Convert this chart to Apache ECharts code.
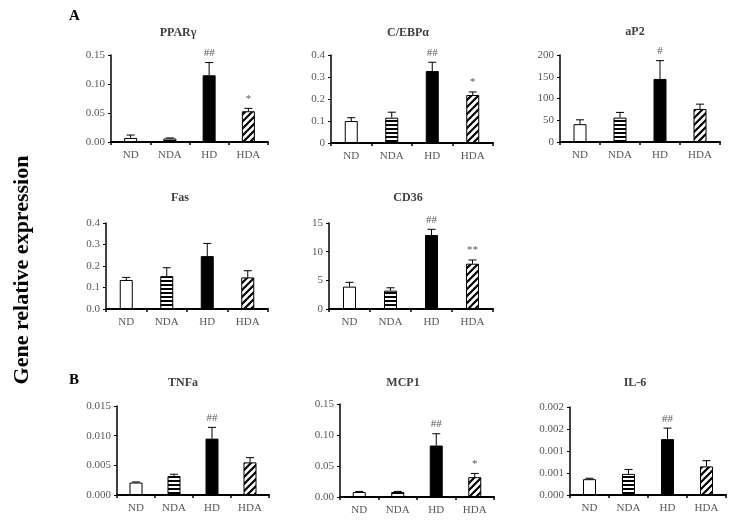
<!DOCTYPE html>
<html>
<head>
<meta charset="utf-8">
<script src="https://cdn.jsdelivr.net/npm/echarts@6/dist/echarts.min.js"></script>
<style>
html,body{margin:0;padding:0;background:#fff;}
#chart{width:729px;height:524px;}
</style>
</head>
<body>
<div id="chart"></div>
<script>
// ---- Data ----
const categories = ['ND', 'NDA', 'HD', 'HDA'];
const panelNames = ['PPARγ', 'C/EBPα', 'aP2', 'Fas', 'CD36', 'TNFa', 'MCP1', 'IL-6'];

const ppargMean = [0.007, 0.006, 0.115, 0.053];
const ppargSE   = [0.005, 0.001, 0.022, 0.005];
const ppargSig  = ['', '', '##', '*'];
const ppargTicks = ['0.00', '0.05', '0.10', '0.15'];

const cebpaMean = [0.100, 0.115, 0.327, 0.218];
const cebpaSE   = [0.015, 0.025, 0.040, 0.014];
const cebpaSig  = ['', '', '##', '*'];
const cebpaTicks = ['0', '0.1', '0.2', '0.3', '0.4'];

const ap2Mean = [41, 56, 145, 76];
const ap2SE   = [10, 12, 42, 11];
const ap2Sig  = ['', '', '#', ''];
const ap2Ticks = ['0', '50', '100', '150', '200'];

const fasMean = [0.135, 0.153, 0.246, 0.147];
const fasSE   = [0.012, 0.039, 0.059, 0.031];
const fasSig  = ['', '', '', ''];
const fasTicks = ['0.0', '0.1', '0.2', '0.3', '0.4'];

const cd36Mean = [3.9, 3.2, 12.9, 7.9];
const cd36SE   = [0.75, 0.5, 1.0, 0.65];
const cd36Sig  = ['', '', '##', '**'];
const cd36Ticks = ['0', '5', '10', '15'];

const tnfaMean = [0.0021, 0.0032, 0.0095, 0.0055];
const tnfaSE   = [0.0001, 0.0003, 0.0019, 0.0008];
const tnfaSig  = ['', '', '##', ''];
const tnfaTicks = ['0.000', '0.005', '0.010', '0.015'];

const mcp1Mean = [0.008, 0.008, 0.083, 0.032];
const mcp1SE   = [0.001, 0.001, 0.019, 0.006];
const mcp1Sig  = ['', '', '##', '*'];
const mcp1Ticks = ['0.00', '0.05', '0.10', '0.15'];

const il6Mean = [0.00036, 0.00048, 0.00127, 0.00065];
const il6SE   = [0.00002, 0.0001, 0.00025, 0.00013];
const il6Sig  = ['', '', '##', ''];
const il6Ticks = ['0.000', '0.001', '0.001', '0.002', '0.002'];

const axisMax = [0.15, 0.4, 200, 0.4, 15, 0.015, 0.15, 0.002];
const axisInterval = [0.05, 0.1, 50, 0.1, 5, 0.005, 0.05, 0.0005];

const yTitle = 'Gene relative expression';

// ---- Layout / style ----
const panels = [
  {mean: ppargMean, se: ppargSE, sig: ppargSig, ticks: ppargTicks},
  {mean: cebpaMean, se: cebpaSE, sig: cebpaSig, ticks: cebpaTicks},
  {mean: ap2Mean, se: ap2SE, sig: ap2Sig, ticks: ap2Ticks},
  {mean: fasMean, se: fasSE, sig: fasSig, ticks: fasTicks},
  {mean: cd36Mean, se: cd36SE, sig: cd36Sig, ticks: cd36Ticks},
  {mean: tnfaMean, se: tnfaSE, sig: tnfaSig, ticks: tnfaTicks},
  {mean: mcp1Mean, se: mcp1SE, sig: mcp1Sig, ticks: mcp1Ticks},
  {mean: il6Mean, se: il6SE, sig: il6Sig, ticks: il6Ticks}
];
const grids = [
  {left: 111, top: 55, width: 157, height: 87},
  {left: 331, top: 55, width: 162, height: 88},
  {left: 560, top: 55, width: 160, height: 87},
  {left: 106, top: 223, width: 162, height: 86},
  {left: 329, top: 223, width: 164, height: 86},
  {left: 117, top: 406, width: 152, height: 89},
  {left: 340, top: 404, width: 154, height: 93},
  {left: 570, top: 407, width: 156, height: 88}
];
const titlePos = [
  [173, 22], [403, 22], [630, 21],
  [175, 187], [403, 187],
  [178, 372], [398, 372], [630, 372]
];

const FONT = '"Liberation Serif", "Times New Roman", serif';
const GRAY = '#595959';

function makeHStripes() {
  const c = document.createElement('canvas');
  c.width = 8; c.height = 4;
  const g = c.getContext('2d');
  g.fillStyle = '#fff'; g.fillRect(0, 0, 8, 4);
  g.fillStyle = '#000'; g.fillRect(0, 0, 8, 2);
  return c;
}
function makeDiag() {
  const s = 7;
  const c = document.createElement('canvas');
  c.width = s; c.height = s;
  const g = c.getContext('2d');
  g.fillStyle = '#fff'; g.fillRect(0, 0, s, s);
  g.strokeStyle = '#000'; g.lineWidth = 2.2;
  g.beginPath();
  g.moveTo(-1, s + 1); g.lineTo(s + 1, -1);
  g.moveTo(-1, 1); g.lineTo(1, -1);
  g.moveTo(s - 1, s + 1); g.lineTo(s + 1, s - 1);
  g.stroke();
  return c;
}
const barFills = [
  '#ffffff',
  {image: makeHStripes(), repeat: 'repeat'},
  '#000000',
  {image: makeDiag(), repeat: 'repeat'}
];

const option = {
  animation: false,
  backgroundColor: '#fff',
  title: panelNames.map((n, i) => ({
    text: n,
    left: titlePos[i][0],
    top: titlePos[i][1],
    textAlign: 'center',
    textStyle: {fontFamily: FONT, fontSize: 12, fontWeight: 'bold', color: '#404040'}
  })),
  grid: grids.map(g => Object.assign({containLabel: false}, g)),
  xAxis: panels.map((p, i) => ({
    type: 'category',
    gridIndex: i,
    data: categories,
    axisLine: {lineStyle: {color: '#000', width: 2}},
    axisTick: {show: true, length: 3, lineStyle: {color: '#000', width: 1.5}},
    axisLabel: {fontFamily: FONT, fontSize: 11, color: GRAY, margin: 8}
  })),
  yAxis: panels.map((p, i) => ({
    type: 'value',
    gridIndex: i,
    min: 0,
    max: axisMax[i],
    interval: axisInterval[i],
    splitLine: {show: false},
    axisLine: {show: true, lineStyle: {color: '#000', width: 1.5}},
    axisTick: {show: true, length: 3, lineStyle: {color: '#000', width: 1}},
    axisLabel: {
      fontFamily: FONT, fontSize: 11, color: GRAY, margin: 6,
      formatter: (v) => {
        const k = Math.round(v / axisInterval[i]);
        return p.ticks[k] !== undefined ? p.ticks[k] : '';
      }
    }
  })),
  series: [],
  graphic: [
    {type: 'text', left: 69, top: 9, style: {text: 'A', font: 'bold 15px ' + FONT, fill: '#000'}},
    {type: 'text', left: 69, top: 373, style: {text: 'B', font: 'bold 15px ' + FONT, fill: '#000'}},
    {type: 'text', x: 22, y: 270, rotation: Math.PI / 2,
     style: {text: yTitle, font: 'bold 22px ' + FONT, fill: '#000', align: 'center', verticalAlign: 'middle'}}
  ]
};

panels.forEach((p, i) => {
  option.series.push({
    type: 'bar',
    xAxisIndex: i, yAxisIndex: i,
    barWidth: 13,
    z: 2,
    data: p.mean.map((v, k) => ({
      value: v,
      itemStyle: {color: barFills[k], borderColor: '#000', borderWidth: 1}
    }))
  });
  option.series.push({
    type: 'custom',
    xAxisIndex: i, yAxisIndex: i,
    z: 3,
    data: p.mean.map((v, k) => [k, v, v + p.se[k]]),
    renderItem: function (params, api) {
      const top = api.coord([api.value(0), api.value(2)]);
      const base = api.coord([api.value(0), api.value(1)]);
      const sig = p.sig[params.dataIndex];
      const children = [
        {type: 'line', shape: {x1: top[0], y1: base[1], x2: top[0], y2: top[1]},
         style: {stroke: '#000', lineWidth: 1}},
        {type: 'line', shape: {x1: top[0] - 4, y1: top[1], x2: top[0] + 4, y2: top[1]},
         style: {stroke: '#000', lineWidth: 1}}
      ];
      if (sig) {
        children.push({type: 'text', x: top[0], y: top[1] - 4,
          style: {text: sig, font: '11px ' + FONT, fill: GRAY, align: 'center', verticalAlign: 'bottom'}});
      }
      return {type: 'group', children: children};
    }
  });
});

const chart = echarts.init(document.getElementById('chart'), null, {renderer: 'canvas'});
chart.setOption(option);
</script>
</body>
</html>
